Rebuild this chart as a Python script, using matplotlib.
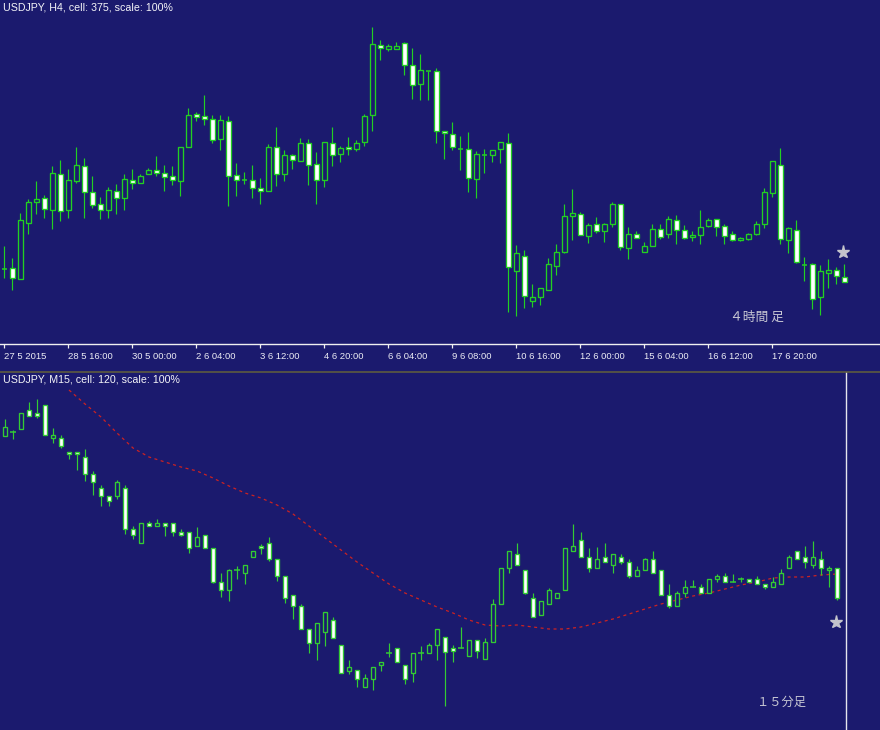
import matplotlib
matplotlib.use("Agg")
import matplotlib.pyplot as plt
import numpy as np
from matplotlib.lines import Line2D

BG = "#1b1a6e"
TOP_GREEN = "#22d022"
BOT_GREEN = "#33cc33"
TXT = "#ececf4"
STAR = "#c4c4cc"

# ---------------- H4 data (prices in 0.01 JPY) ----------------
top_open = [12331, 12332, 12321, 12377, 12398, 12402, 12390, 12426, 12390, 12419,
            12434, 12408, 12396, 12390, 12409, 12402, 12420, 12417, 12426, 12430,
            12427, 12424, 12419, 12453, 12486, 12484, 12481, 12461, 12479, 12425,
            12420, 12420, 12412, 12409, 12453, 12426, 12445, 12439, 12457, 12436,
            12420, 12457, 12446, 12453, 12451, 12458, 12485, 12555, 12551, 12551,
            12557, 12535, 12516, 12529, 12529, 12469, 12466, 12451, 12451, 12421,
            12445, 12445, 12451, 12457, 12329, 12344, 12299, 12303, 12310, 12334,
            12348, 12384, 12386, 12364, 12376, 12369, 12376, 12396, 12352, 12366,
            12348, 12354, 12371, 12366, 12380, 12370, 12363, 12365, 12374, 12381,
            12374, 12366, 12360, 12361, 12366, 12376, 12407, 12435, 12360, 12370,
            12335, 12336, 12303, 12327, 12330, 12323]
top_high = [12354, 12342, 12387, 12401, 12419, 12405, 12434, 12440, 12431, 12453,
            12442, 12424, 12403, 12413, 12416, 12426, 12431, 12426, 12432, 12444,
            12435, 12434, 12453, 12492, 12488, 12505, 12485, 12485, 12484, 12437,
            12428, 12435, 12422, 12456, 12473, 12450, 12446, 12462, 12461, 12448,
            12458, 12473, 12454, 12463, 12460, 12486, 12573, 12560, 12556, 12558,
            12558, 12552, 12546, 12529, 12532, 12469, 12478, 12464, 12468, 12449,
            12451, 12450, 12458, 12467, 12355, 12350, 12316, 12312, 12342, 12356,
            12396, 12411, 12388, 12377, 12383, 12377, 12398, 12396, 12373, 12369,
            12358, 12376, 12376, 12384, 12385, 12375, 12369, 12390, 12382, 12381,
            12376, 12369, 12363, 12367, 12379, 12412, 12439, 12452, 12373, 12380,
            12343, 12337, 12335, 12341, 12333, 12336]
top_low = [12322, 12310, 12321, 12366, 12386, 12382, 12371, 12379, 12382, 12417,
           12382, 12392, 12381, 12382, 12386, 12390, 12411, 12417, 12426, 12424,
           12409, 12415, 12404, 12453, 12479, 12475, 12457, 12450, 12394, 12404,
           12416, 12402, 12396, 12409, 12414, 12419, 12431, 12439, 12415, 12396,
           12413, 12434, 12438, 12445, 12449, 12454, 12469, 12540, 12549, 12551,
           12525, 12501, 12500, 12500, 12457, 12441, 12450, 12430, 12408, 12402,
           12427, 12438, 12437, 12288, 12284, 12292, 12293, 12295, 12310, 12325,
           12347, 12360, 12365, 12357, 12367, 12358, 12373, 12350, 12341, 12362,
           12348, 12354, 12361, 12362, 12356, 12361, 12359, 12356, 12373, 12364,
           12356, 12359, 12359, 12360, 12365, 12372, 12403, 12356, 12347, 12337,
           12319, 12291, 12285, 12312, 12316, 12318]
top_close = [12331, 12322, 12380, 12398, 12401, 12391, 12427, 12389, 12420, 12435,
             12408, 12395, 12390, 12410, 12402, 12421, 12417, 12424, 12430, 12427,
             12423, 12420, 12453, 12485, 12483, 12481, 12460, 12480, 12424, 12420,
             12420, 12412, 12409, 12453, 12426, 12445, 12440, 12457, 12435, 12420,
             12458, 12445, 12452, 12451, 12457, 12484, 12556, 12552, 12554, 12554,
             12535, 12515, 12530, 12529, 12469, 12467, 12453, 12451, 12422, 12446,
             12445, 12450, 12458, 12333, 12347, 12304, 12303, 12312, 12336, 12348,
             12384, 12387, 12365, 12375, 12369, 12376, 12396, 12353, 12366, 12362,
             12354, 12371, 12363, 12381, 12370, 12362, 12365, 12373, 12380, 12373,
             12364, 12360, 12362, 12366, 12376, 12408, 12439, 12361, 12372, 12338,
             12335, 12301, 12329, 12330, 12324, 12318]
top_tick_labels = ["27 5 2015", "28 5 16:00", "30 5 00:00", "2 6 04:00", "3 6 12:00",
                   "4 6 20:00", "6 6 04:00", "9 6 08:00", "10 6 16:00", "12 6 00:00",
                   "15 6 04:00", "16 6 12:00", "17 6 20:00"]
top_star = (104.8, 12348)

# ---------------- M15 data (prices in 0.001 JPY) ----------------
bot_open = [123564, 123568, 123571, 123590, 123587, 123595, 123562, 123562, 123548, 123548,
            123543, 123526, 123512, 123504, 123504, 123512, 123471, 123457, 123477, 123474,
            123477, 123477, 123468, 123468, 123454, 123465, 123452, 123418, 123410, 123430,
            123427, 123443, 123454, 123457, 123441, 123424, 123405, 123394, 123371, 123357,
            123368, 123380, 123355, 123329, 123330, 123313, 123321, 123335, 123347, 123352,
            123335, 123327, 123347, 123347, 123355, 123363, 123352, 123352, 123344, 123360,
            123341, 123358, 123396, 123432, 123446, 123430, 123402, 123385, 123396, 123402,
            123410, 123449, 123460, 123443, 123432, 123443, 123435, 123443, 123438, 123424,
            123430, 123441, 123430, 123405, 123394, 123407, 123413, 123413, 123407, 123421,
            123424, 123418, 123421, 123421, 123421, 123416, 123413, 123416, 123432, 123449,
            123443, 123435, 123441, 123430, 123432]
bot_high = [123581, 123570, 123587, 123598, 123601, 123595, 123572, 123565, 123548, 123548,
            123551, 123529, 123515, 123504, 123520, 123515, 123474, 123477, 123479, 123481,
            123477, 123477, 123471, 123468, 123473, 123465, 123452, 123427, 123431, 123434,
            123435, 123449, 123456, 123463, 123441, 123424, 123405, 123396, 123371, 123377,
            123388, 123383, 123355, 123340, 123330, 123326, 123333, 123338, 123357, 123352,
            123335, 123347, 123354, 123357, 123371, 123363, 123355, 123373, 123360, 123360,
            123362, 123401, 123432, 123449, 123457, 123430, 123407, 123399, 123412, 123407,
            123452, 123476, 123468, 123452, 123453, 123457, 123446, 123446, 123441, 123434,
            123442, 123449, 123430, 123416, 123409, 123420, 123420, 123416, 123421, 123426,
            123427, 123426, 123423, 123421, 123424, 123416, 123423, 123431, 123445, 123449,
            123454, 123459, 123449, 123434, 123432]
bot_low = [123564, 123561, 123571, 123584, 123582, 123565, 123557, 123552, 123541, 123530,
           123519, 123505, 123494, 123494, 123501, 123466, 123461, 123457, 123474, 123474,
           123464, 123464, 123464, 123447, 123454, 123452, 123417, 123403, 123399, 123421,
           123416, 123443, 123446, 123439, 123419, 123397, 123381, 123371, 123347, 123340,
           123354, 123362, 123327, 123326, 123313, 123313, 123310, 123329, 123343, 123338,
           123316, 123318, 123340, 123347, 123340, 123294, 123338, 123352, 123344, 123342,
           123341, 123358, 123396, 123427, 123435, 123406, 123383, 123385, 123396, 123402,
           123410, 123449, 123443, 123428, 123432, 123438, 123427, 123436, 123422, 123424,
           123430, 123427, 123405, 123392, 123394, 123403, 123413, 123407, 123407, 123418,
           123418, 123418, 123418, 123418, 123416, 123411, 123413, 123416, 123432, 123441,
           123432, 123432, 123425, 123413, 123400]
bot_close = [123573, 123568, 123587, 123584, 123584, 123565, 123565, 123554, 123546, 123546,
             123526, 123518, 123504, 123499, 123518, 123471, 123465, 123477, 123474, 123477,
             123474, 123468, 123465, 123452, 123463, 123452, 123418, 123410, 123430, 123430,
             123435, 123449, 123452, 123441, 123424, 123402, 123394, 123371, 123357, 123377,
             123388, 123362, 123327, 123333, 123321, 123322, 123333, 123338, 123347, 123338,
             123321, 123347, 123347, 123355, 123371, 123348, 123349, 123352, 123360, 123349,
             123358, 123396, 123432, 123449, 123435, 123407, 123383, 123399, 123410, 123407,
             123452, 123454, 123443, 123432, 123441, 123438, 123446, 123438, 123424, 123430,
             123441, 123427, 123405, 123394, 123407, 123413, 123413, 123407, 123421, 123424,
             123418, 123418, 123421, 123418, 123416, 123413, 123418, 123427, 123443, 123441,
             123438, 123443, 123432, 123432, 123402]
# moving average (dashed red), every second bar starting at bar 8
bot_ma_start = 8
bot_ma = [123610, 123596, 123583, 123567, 123552, 123543, 123538, 123533, 123529, 123522,
          123514, 123507, 123502, 123495, 123486, 123474, 123462, 123450, 123438, 123427,
          123416, 123407, 123400, 123393, 123387, 123380, 123375, 123374, 123375, 123373,
          123371, 123371, 123373, 123377, 123381, 123386, 123391, 123396, 123400, 123404,
          123407, 123411, 123415, 123418, 123422, 123423, 123423, 123425, 123426]
bot_star = (103.9, 123378)
bot_cursor = 105.1

plt.rcParams["font.family"] = ["Liberation Sans", "DejaVu Sans"]

W, H = 880, 730
fig = plt.figure(figsize=(W / 100, H / 100), dpi=100, facecolor=BG)

ax_top = fig.add_axes([0, (H - 344) / H, 1, 344 / H], facecolor=BG)
ax_bot = fig.add_axes([0, 0, 1, 358 / H], facecolor=BG)


def draw_candles(ax, o, h, l, c, scale, edge, hollow_fill):
    o = np.asarray(o, float) / scale
    h = np.asarray(h, float) / scale
    l = np.asarray(l, float) / scale
    c = np.asarray(c, float) / scale
    x = np.arange(len(o))
    ax.vlines(x, l, h, color=edge, lw=0.85, zorder=2)
    up = c > o
    dn = c < o
    eq = c == o
    ax.bar(x[up], (c - o)[up], bottom=o[up], width=0.55, facecolor=hollow_fill,
           edgecolor=edge, lw=0.95, zorder=3)
    ax.bar(x[dn], (o - c)[dn], bottom=c[dn], width=0.55, facecolor="white",
           edgecolor=edge, lw=0.95, zorder=3)
    ax.hlines(o[eq], x[eq] - 0.32, x[eq] + 0.32, color=edge, lw=1.1, zorder=3)


draw_candles(ax_top, top_open, top_high, top_low, top_close, 100, TOP_GREEN, BG)
draw_candles(ax_bot, bot_open, bot_high, bot_low, bot_close, 1000, BOT_GREEN, BG)

ax_top.set_xlim(-4.33 / 8, (W - 4.33) / 8)
ax_top.set_ylim(122.56, 126.00)
ax_bot.set_xlim(-5 / 8, (W - 5) / 8)
ax_bot.set_ylim(123.270, 123.628)

# moving average
ma_x = bot_ma_start + 2 * np.arange(len(bot_ma))
ax_bot.plot(ma_x, np.array(bot_ma) / 1000, color="#cc2222", lw=0.9,
            linestyle=(0, (2.4, 2.8)), zorder=1)

# stars
ax_top.plot([top_star[0]], [top_star[1] / 100], marker="*", ms=9.5, color=STAR,
            mec=STAR, zorder=4, linestyle="none")
ax_bot.plot([bot_star[0]], [bot_star[1] / 1000], marker="*", ms=9.5, color=STAR,
            mec=STAR, zorder=4, linestyle="none")

# cursor line in bottom panel
ax_bot.axvline(bot_cursor, color="#e6e6ee", lw=1.0, zorder=1)

# axes styling
for ax in (ax_top, ax_bot):
    for s in ax.spines.values():
        s.set_visible(False)
    ax.set_yticks([])
ax_bot.set_xticks([])
ax_top.spines["bottom"].set_visible(True)
ax_top.spines["bottom"].set_color("#f0f0f0")
ax_top.spines["bottom"].set_linewidth(1.0)
ax_top.set_xticks(np.arange(len(top_tick_labels)) * 8)
ax_top.set_xticklabels(top_tick_labels, fontsize=6.8, color=TXT, ha="left")
ax_top.tick_params(axis="x", direction="out", length=3, width=0.9, color="#f0f0f0", pad=3)

# separator between panels
fig.add_artist(Line2D([0, 1], [358 / H, 358 / H], transform=fig.transFigure,
                      color="#5e5c40", lw=1.2))

# titles
fig.text(3 / W, 1 - 7 / H, "USDJPY, H4, cell: 375, scale: 100%", color="#f4f4f8",
         fontsize=7.7, va="center", ha="left")
fig.text(3 / W, 1 - 380 / H, "USDJPY, M15, cell: 120, scale: 100%", color="#f4f4f8",
         fontsize=7.7, va="center", ha="left")

# Japanese annotations
cjk = ["Noto Sans CJK JP", "DejaVu Sans"]
fig.text(730 / W, 1 - 317 / H, "４時間 足", color="#c8c8d4", fontsize=9.2,
         family=cjk, va="center", ha="left")
fig.text(757 / W, 1 - 702 / H, "１５分足", color="#c8c8d4", fontsize=8.8,
         family=cjk, va="center", ha="left")

fig.savefig("out.png", dpi=100, facecolor=BG)
